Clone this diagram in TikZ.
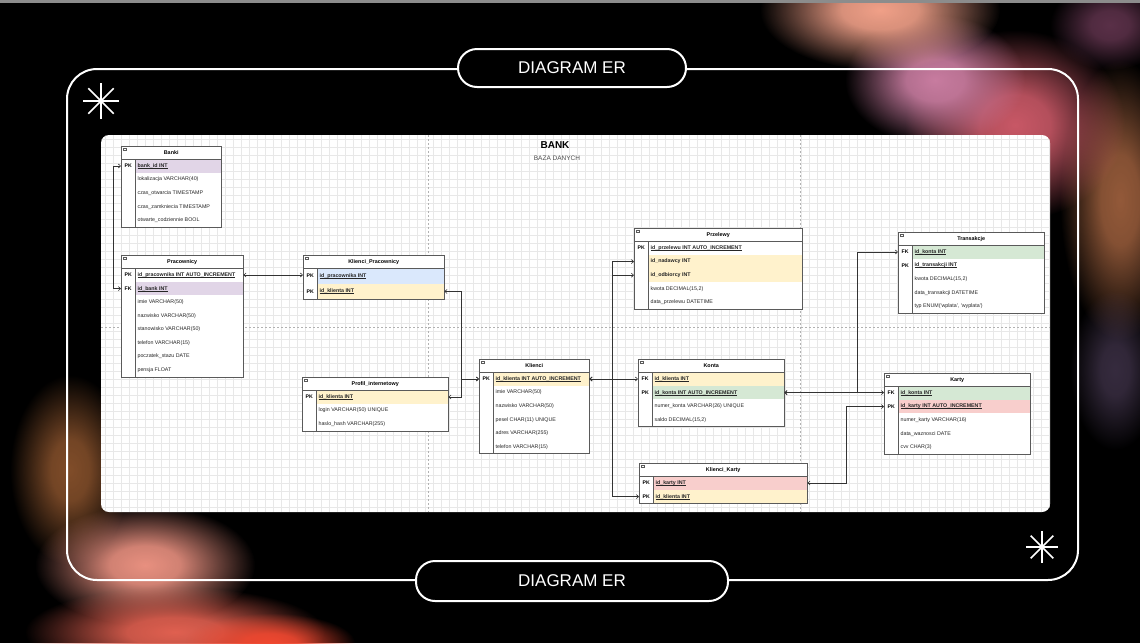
\documentclass[tikz,border=0pt]{standalone}
\usepackage{fontspec}
\setmainfont{Liberation Sans}
\usetikzlibrary{arrows.meta,fadings}
\pgfdeclareradialshading{blobsh}{\pgfpointorigin}{color(0bp)=(pgftransparent!0); color(8bp)=(pgftransparent!10); color(25bp)=(pgftransparent!100); color(50bp)=(pgftransparent!100)}
\pgfdeclarefading{blobfade}{\pgfuseshading{blobsh}}
\definecolor{erpurple}{HTML}{E1D5E7}
\definecolor{erblue}{HTML}{DAE8FC}
\definecolor{eryellow}{HTML}{FFF2CC}
\definecolor{ergreen}{HTML}{D5E8D4}
\definecolor{erred}{HTML}{F8CECC}
\definecolor{erborder}{HTML}{5A5A5A}
\definecolor{gridc}{HTML}{E8E8E8}
\definecolor{bgsalmon}{HTML}{F0A088}
\definecolor{bgmauve}{HTML}{C87CA0}
\definecolor{bgrose}{HTML}{C85866}
\definecolor{bgdark}{HTML}{5A3048}
\definecolor{bgpeach}{HTML}{B87048}
\definecolor{bgpurple}{HTML}{5A4868}
\definecolor{bgbrown}{HTML}{A06034}
\definecolor{bgpink}{HTML}{E89080}
\definecolor{bgsalred}{HTML}{E06050}
\definecolor{bgred}{HTML}{F04830}
\newcommand\erul[1]{\setbox0\hbox{#1}\rlap{\copy0}\rule[-0.9pt]{\wd0}{0.4pt}}
\newcommand\erfmt[2]{\if#1u\erul{\textbf{#2}}\else\if#1b\textbf{#2}\else#2\fi\fi}
\newcommand\ertable[8]{%
  \pgfmathsetmacro\erbot{#3+13+#8*#6}%
  \fill[white] (#2,#3) rectangle (#2+#4,\erbot);
  \node[erhead, minimum width=#4, anchor=north west] (#1) at (#2,#3) {#5};
  \foreach \ek/\etx/\efl/\efm/\eln [count=\ei] in {#7}{%
    \pgfmathsetmacro\ery{#3+13+(\ei-1)*#6}%
    \node[errow, fill=\efl, minimum width=#4-14, minimum height=#6, anchor=north west] (#1-\ei) at (#2+14,\ery) {};
    \node[ertext, anchor=west] (#1-t\ei) at (#1-\ei.west) {\erfmt{\efm}{\etx}};
    \node[erkey, minimum height=#6, anchor=north west] (#1-k\ei) at (#2,\ery) {\ek};
    \ifnum\eln=1 \draw[erline] (#1-k\ei.south west) -- (#1-\ei.south east);\fi
  }%
  \draw[erline] (#2,#3+13) -- (#2+#4,#3+13);
  \draw[erline] (#2+14,#3+13) -- (#2+14,\erbot);
  \draw[erline] (#2,#3) rectangle (#2+#4,\erbot);
  \draw[erline, line width=0.3, fill=white] (#2+2,#3+2) rectangle (#2+5,#3+4.5);
}
\tikzset{
  erhead/.style={fill=white, inner sep=0, minimum height=13, font=\bfseries\fontsize{5.4}{6}\selectfont},
  errow/.style={draw=none, inner sep=0},
  ertext/.style={inner xsep=2.4, inner ysep=0, font=\fontsize{5.3}{6}\selectfont, text=black!85},
  erkey/.style={fill=white, inner sep=0, minimum width=14, font=\bfseries\fontsize{5.2}{6}\selectfont},
  erline/.style={draw=erborder, line width=0.6},
  conn/.style={draw=black!80, line width=0.6, arrows={Straight Barb[length=2.2pt,width=4pt]}-{Straight Barb[length=2.2pt,width=4pt]}},
  pill/.style={draw=white, line width=2, fill=black, rounded corners=19, text=white, font=\fontsize{17}{20}\selectfont, inner sep=0},
  blob/.style={path fading=blobfade},
  star/.style={draw=white, line width=1.6},
}
\begin{document}
\begin{tikzpicture}[x=1pt,y=-1pt]
\useasboundingbox (0,0) rectangle (1140,643);
\fill[black] (0,0) rectangle (1140,643);
% background glows
\fill[blob, fill=bgpeach, opacity=0.8] (1120,200) ellipse (60 and 140);
\fill[blob, fill=bgpurple, opacity=0.6] (1115,370) ellipse (45 and 80);
\fill[blob, fill=bgrose] (1015,125) ellipse (110 and 95);
\fill[blob, fill=bgmauve] (935,80) ellipse (90 and 65);
\fill[blob, fill=bgsalmon] (880,10) ellipse (120 and 60);
\fill[blob, fill=bgdark] (1110,25) ellipse (60 and 45);
\fill[blob, fill=bgbrown, opacity=0.8] (70,470) ellipse (60 and 95);
\fill[blob, fill=bgpink] (145,565) ellipse (110 and 60);
\fill[blob, fill=bgsalred] (175,632) ellipse (150 and 45);
\fill[blob, fill=bgred] (270,643) ellipse (85 and 30);
\fill[black!45] (0,0) rectangle (1140,2.5);
% frame
\draw[white, line width=2, rounded corners=30] (67,69) rectangle (1078,580);
\node[pill, minimum width=228, minimum height=38] (toppill) at (572,68) {DIAGRAM ER};
\node[pill, minimum width=312, minimum height=40] (botpill) at (572,581) {DIAGRAM ER};
\foreach \a in {0,45,90,135} \draw[star] (101,101) ++(\a:18) -- ++(\a+180:36);
\foreach \a in {0,45,90,135} \draw[star] (1042,547) ++(\a:16) -- ++(\a+180:32);
% panel
\fill[white, rounded corners=8] (101,135) rectangle (1050,512);
\begin{scope}
\clip[rounded corners=8] (101,135) rectangle (1050,512);
\foreach \x in {105,113,...,1050} \draw[gridc, line width=0.4] (\x,135) -- (\x,512);
\foreach \y in {139,147,...,512} \draw[gridc, line width=0.4] (101,\y) -- (1050,\y);
\draw[black!30, line width=0.5, dash pattern=on 2pt off 2pt] (428,135) -- (428,512);
\draw[black!30, line width=0.5, dash pattern=on 2pt off 2pt] (101,327) -- (1050,327);
\draw[black!30, line width=0.5, dash pattern=on 2pt off 2pt] (800,135) -- (800,512);
\end{scope}
\node[font=\bfseries\fontsize{10}{12}\selectfont] (title) at (555,145.5) {BANK};
\node[text=black!70, font=\fontsize{6.5}{8}\selectfont] (subtitle) at (557,158) {BAZA DANYCH};
% tables
\ertable{banki}{121}{146}{100}{Banki}{13.6}{
  PK/bank\_id INT/erpurple/u/1,
  /lokalizacja VARCHAR(40)/white/n/0,
  /czas\_otwarcia TIMESTAMP/white/n/0,
  /czas\_zamkniecia TIMESTAMP/white/n/0,
  /otwarte\_codziennie BOOL/white/n/0}{5}
\ertable{prac}{121}{255}{122}{Pracownicy}{13.6}{
  PK/id\_pracownika INT AUTO\_INCREMENT/white/u/1,
  FK/id\_bank INT/erpurple/u/1,
  /imie VARCHAR(50)/white/n/0,
  /nazwisko VARCHAR(50)/white/n/0,
  /stanowisko VARCHAR(50)/white/n/0,
  /telefon VARCHAR(15)/white/n/0,
  /poczatek\_stazu DATE/white/n/0,
  /pensja  FLOAT/white/n/0}{8}
\ertable{kp}{303}{255}{141}{Klienci\_Pracownicy}{15.5}{
  PK/id\_pracownika INT/erblue/u/1,
  PK/id\_klienta INT/eryellow/u/1}{2}
\ertable{profil}{302}{377}{146}{Profil\_internetowy}{13.6}{
  PK/id\_klienta INT/eryellow/u/1,
  /login VARCHAR(50) UNIQUE/white/n/0,
  /haslo\_hash VARCHAR(255)/white/n/0}{3}
\ertable{klienci}{479}{359}{110}{Klienci}{13.6}{
  PK/id\_klienta INT AUTO\_INCREMENT/eryellow/u/1,
  /imie VARCHAR(50)/white/n/0,
  /nazwisko VARCHAR(50)/white/n/0,
  /pesel CHAR(11) UNIQUE/white/n/0,
  /adres VARCHAR(255)/white/n/0,
  /telefon VARCHAR(15)/white/n/0}{6}
\ertable{przel}{634}{228}{168}{Przelewy}{13.6}{
  PK/id\_przelewu INT AUTO\_INCREMENT/white/u/1,
  /id\_nadawcy INT/eryellow/b/0,
  /id\_odbiorcy INT/eryellow/b/0,
  /{kwota DECIMAL(15,2)}/white/n/0,
  /data\_przelewu DATETIME/white/n/0}{5}
\ertable{konta}{638}{359}{146}{Konta}{13.6}{
  FK/id\_klienta INT/eryellow/u/1,
  PK/id\_konta INT AUTO\_INCREMENT/ergreen/u/1,
  /numer\_konta VARCHAR(26) UNIQUE/white/n/0,
  /{saldo DECIMAL(15,2)}/white/n/0}{4}
\ertable{kk}{639}{463}{168}{Klienci\_Karty}{13.6}{
  PK/id\_karty INT/erred/u/1,
  PK/id\_klienta INT/eryellow/u/1}{2}
\ertable{trans}{898}{232}{146}{Transakcje}{13.6}{
  FK/id\_konta INT/ergreen/u/1,
  PK/id\_transakcji INT/white/u/1,
  /{kwota DECIMAL(15,2)}/white/n/0,
  /data\_transakcji DATETIME/white/n/0,
  /{typ ENUM(\textquotesingle wplata\textquotesingle, \textquotesingle wyplata\textquotesingle)}/white/n/0}{5}
\ertable{karty}{884}{373}{146}{Karty}{13.6}{
  FK/id\_konta INT/ergreen/u/1,
  PK/id\_karty INT AUTO\_INCREMENT/erred/u/1,
  /numer\_karty VARCHAR(16)/white/n/0,
  /data\_waznosci DATE/white/n/0,
  /cvv CHAR(3)/white/n/0}{5}
% connectors
\coordinate (ja) at (113,0);
\coordinate (jb) at (461.5,0);
\coordinate (jc) at (612,0);
\coordinate (jd) at (857,0);
\coordinate (je) at (846,0);
\draw[conn] (banki-k1.west) -- (banki-k1.west -| ja) |- (prac-k2.west);
\draw[conn] (prac-1.east) -- (prac-1.east -| kp-k1.west);
\draw[conn] (kp-2.east) -| (jb |- klienci-k1.west) -- (klienci-k1.west);
\draw[conn] (profil-1.east) -| (jb |- klienci-k1.west) -- (klienci-k1.west);
\draw[conn] (klienci-1.east) -- (konta-k1.west);
\draw[conn] (klienci-1.east) -| (jc |- przel-k2.west) -- (przel-k2.west);
\draw[conn] (klienci-1.east) -| (jc |- przel-k3.west) -- (przel-k3.west);
\draw[conn] (klienci-1.east) -| (jc |- kk-k2.west) -- (kk-k2.west);
\draw[conn] (konta-2.east) -| (jd |- trans-k1.west) -- (trans-k1.west);
\draw[conn] (konta-2.east) -- (konta-2.east -| karty-k1.west);
\draw[conn] (kk-1.east) -| (je |- karty-k2.west) -- (karty-k2.west);
\end{tikzpicture}
\end{document}
